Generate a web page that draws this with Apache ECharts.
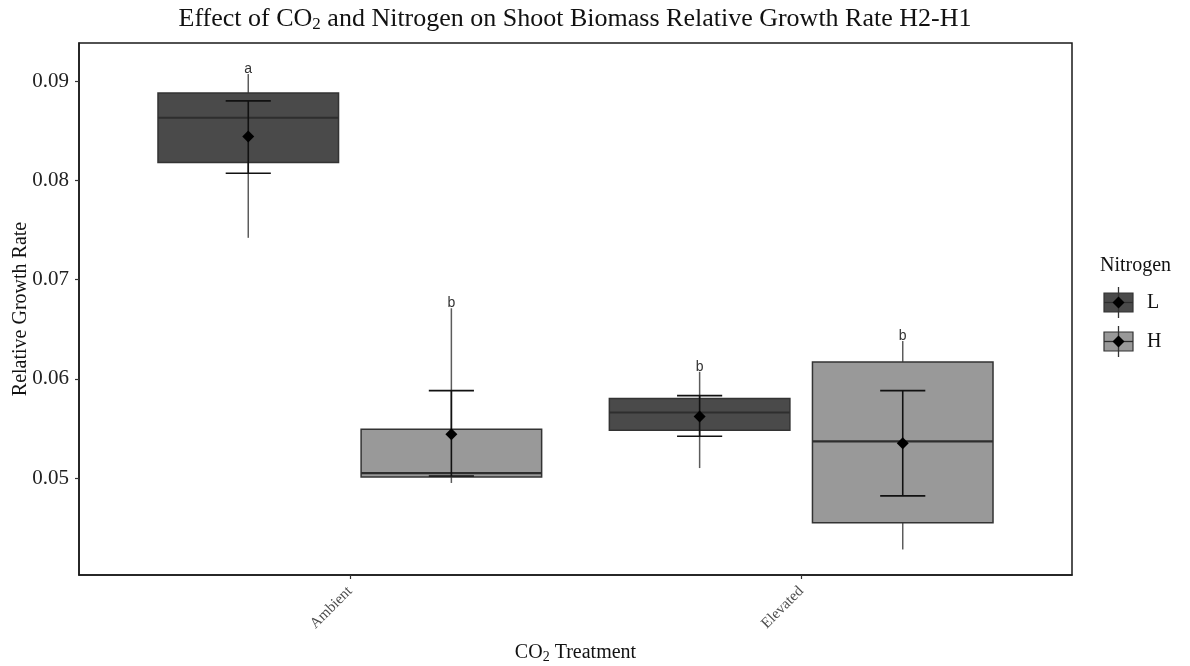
<!DOCTYPE html>
<html>
<head>
<meta charset="utf-8">
<script src="https://cdn.jsdelivr.net/npm/echarts@6/dist/echarts.min.js"></script>
<style>
  html, body { margin: 0; padding: 0; background: #ffffff; }
  #chart { width: 1190px; height: 666px; }
</style>
</head>
<body>
<div id="chart"></div>
<script>
// CO2 treatment groups and nitrogen levels
const categories = ['Ambient', 'Elevated'];
const nitrogenLevels = ['L', 'H'];

// Box statistics per CO2 group: [lower whisker, Q1, median, Q3, upper whisker]
const boxStatsL = [
  [0.0742, 0.0818, 0.0863, 0.0888, 0.0907],
  [0.0510, 0.0548, 0.0566, 0.0580, 0.0607]
];
const boxStatsH = [
  [0.0495, 0.0501, 0.0505, 0.0549, 0.0671],
  [0.0428, 0.0455, 0.0537, 0.0617, 0.0638]
];

// Group means and error bar limits
const meanL = [0.0844, 0.0562];
const meanH = [0.0544, 0.0535];
const errLowL = [0.0807, 0.0542];
const errHighL = [0.0880, 0.0583];
const errLowH = [0.0502, 0.0482];
const errHighH = [0.0588, 0.0588];

// Significance letters
const lettersL = ['a', 'b'];
const lettersH = ['b', 'b'];

// Y axis tick labels
const yTicks = [0.05, 0.06, 0.07, 0.08, 0.09];

const fillColors = { L: '#4a4a4a', H: '#999999' };
const serif = '"Liberation Serif", "Times New Roman", serif';

function buildData(stats, means, lows, highs, letters) {
  return stats.map((s, i) => ({
    value: [i + 1, s[0], s[1], s[2], s[3], s[4], means[i], lows[i], highs[i]],
    letter: letters[i]
  }));
}

function makeRenderer(offset, fill, letters) {
  return function (params, api) {
    const x = api.value(0) + offset;
    const boxW = api.size([0.4, 0])[0];
    const capW = api.size([0.1, 0])[0];
    const p = (v) => api.coord([x, v]);
    const lo = p(api.value(1)), q1 = p(api.value(2)), med = p(api.value(3));
    const q3 = p(api.value(4)), hi = p(api.value(5));
    const mean = p(api.value(6)), eLo = p(api.value(7)), eHi = p(api.value(8));
    const cx = lo[0];
    const d = 6;
    const whiskerStyle = { stroke: '#5c5c5c', lineWidth: 1.5 };
    const barStyle = { stroke: '#111111', lineWidth: 1.6 };
    return {
      type: 'group',
      children: [
        { type: 'line', shape: { x1: cx, y1: q3[1], x2: cx, y2: hi[1] }, style: whiskerStyle },
        { type: 'line', shape: { x1: cx, y1: q1[1], x2: cx, y2: lo[1] }, style: whiskerStyle },
        { type: 'rect', shape: { x: cx - boxW / 2, y: q3[1], width: boxW, height: q1[1] - q3[1] },
          style: { fill: fill, stroke: '#333333', lineWidth: 1.5 } },
        { type: 'line', shape: { x1: cx - boxW / 2, y1: med[1], x2: cx + boxW / 2, y2: med[1] },
          style: { stroke: '#2e2e2e', lineWidth: 2.2 } },
        { type: 'line', shape: { x1: cx, y1: eLo[1], x2: cx, y2: eHi[1] }, style: barStyle },
        { type: 'line', shape: { x1: cx - capW / 2, y1: eHi[1], x2: cx + capW / 2, y2: eHi[1] }, style: barStyle },
        { type: 'line', shape: { x1: cx - capW / 2, y1: eLo[1], x2: cx + capW / 2, y2: eLo[1] }, style: barStyle },
        { type: 'polygon', shape: { points: [[cx, mean[1] - d], [cx + d, mean[1]], [cx, mean[1] + d], [cx - d, mean[1]]] },
          style: { fill: '#000000' } },
        { type: 'text', x: cx, y: hi[1] + 2,
          style: { text: letters[params.dataIndex], fill: '#333333', align: 'center', verticalAlign: 'bottom',
                   font: '14px "Liberation Sans", Arial, sans-serif' } }
      ]
    };
  };
}

function legendKey(y, fill, label) {
  const x0 = 1104, w = 29, h = 19, cx = x0 + w / 2, cy = y + h / 2, d = 6;
  return [
    { type: 'rect', shape: { x: x0, y: y, width: w, height: h }, style: { fill: fill, stroke: '#333333', lineWidth: 1.2 } },
    { type: 'line', shape: { x1: cx, y1: y - 6, x2: cx, y2: y + h + 6 }, style: { stroke: '#333333', lineWidth: 1.3 } },
    { type: 'line', shape: { x1: x0, y1: cy, x2: x0 + w, y2: cy }, style: { stroke: '#2e2e2e', lineWidth: 1.3 } },
    { type: 'polygon', shape: { points: [[cx, cy - d], [cx + d, cy], [cx, cy + d], [cx - d, cy]] }, style: { fill: '#000000' } },
    { type: 'text', x: 1147, y: cy, style: { text: label, fill: '#111111', verticalAlign: 'middle', font: '20px ' + serif } }
  ];
}

const chart = echarts.init(document.getElementById('chart'));
chart.setOption({
  backgroundColor: '#ffffff',
  animation: false,
  title: {
    text: '{n|Effect of CO}{s|2}{n| and Nitrogen on Shoot Biomass Relative Growth Rate H2-H1}',
    left: 570, top: 0, textAlign: 'center',
    textStyle: {
      fontWeight: 'normal',
      rich: {
        n: { fontFamily: serif, fontSize: 26, fontWeight: 'normal', color: '#111111' },
        s: { fontFamily: serif, fontSize: 17, fontWeight: 'normal', color: '#111111', padding: [11, 0, 0, 0] }
      }
    }
  },
  grid: { left: 79, right: 118, top: 43, bottom: 91, outerBoundsMode: 'none', containLabel: false,
          show: true, borderColor: '#1a1a1a', borderWidth: 1.5 },
  xAxis: {
    type: 'value', min: 0.4, max: 2.6,
    name: '{n|CO}{s|2}{n| Treatment}',
    nameLocation: 'middle', nameGap: 66, nameMoveOverlap: false,
    nameTextStyle: {
      rich: {
        n: { fontFamily: serif, fontSize: 20, color: '#111111' },
        s: { fontFamily: serif, fontSize: 14, color: '#111111', padding: [9, 0, 0, 0] }
      }
    },
    axisLine: { show: true, onZero: false, lineStyle: { color: '#1a1a1a', width: 1.5 } },
    axisTick: { show: true, customValues: [1, 2], length: 4, lineStyle: { color: '#333333', width: 1.2 } },
    axisLabel: {
      customValues: [1, 2], rotate: 45, margin: 14,
      fontFamily: serif, fontSize: 15, color: '#4d4d4d',
      formatter: (v) => categories[Math.round(v) - 1]
    },
    splitLine: { show: false }
  },
  yAxis: {
    type: 'value', min: 0.040227, max: 0.093829,
    name: 'Relative Growth Rate', nameLocation: 'middle', nameGap: 48, nameMoveOverlap: false,
    nameTextStyle: { fontFamily: serif, fontSize: 20, color: '#111111' },
    axisLine: { show: true, onZero: false, lineStyle: { color: '#1a1a1a', width: 1.5 } },
    axisTick: { show: true, customValues: yTicks, length: 4, lineStyle: { color: '#333333', width: 1.2 } },
    axisLabel: {
      customValues: yTicks, margin: 10,
      fontFamily: serif, fontSize: 21, color: '#222222',
      formatter: (v) => v.toFixed(2)
    },
    splitLine: { show: false }
  },
  series: [
    {
      name: nitrogenLevels[0], type: 'custom',
      renderItem: makeRenderer(-0.225, fillColors.L, lettersL),
      encode: { x: 0, y: [1, 5] },
      data: buildData(boxStatsL, meanL, errLowL, errHighL, lettersL)
    },
    {
      name: nitrogenLevels[1], type: 'custom',
      renderItem: makeRenderer(0.225, fillColors.H, lettersH),
      encode: { x: 0, y: [1, 5] },
      data: buildData(boxStatsH, meanH, errLowH, errHighH, lettersH)
    }
  ],
  graphic: [
    { type: 'text', x: 1100, y: 266, style: { text: 'Nitrogen', fill: '#111111', verticalAlign: 'middle', font: '20px ' + serif } },
    ...legendKey(293, fillColors.L, nitrogenLevels[0]),
    ...legendKey(332, fillColors.H, nitrogenLevels[1])
  ]
});
</script>
</body>
</html>
